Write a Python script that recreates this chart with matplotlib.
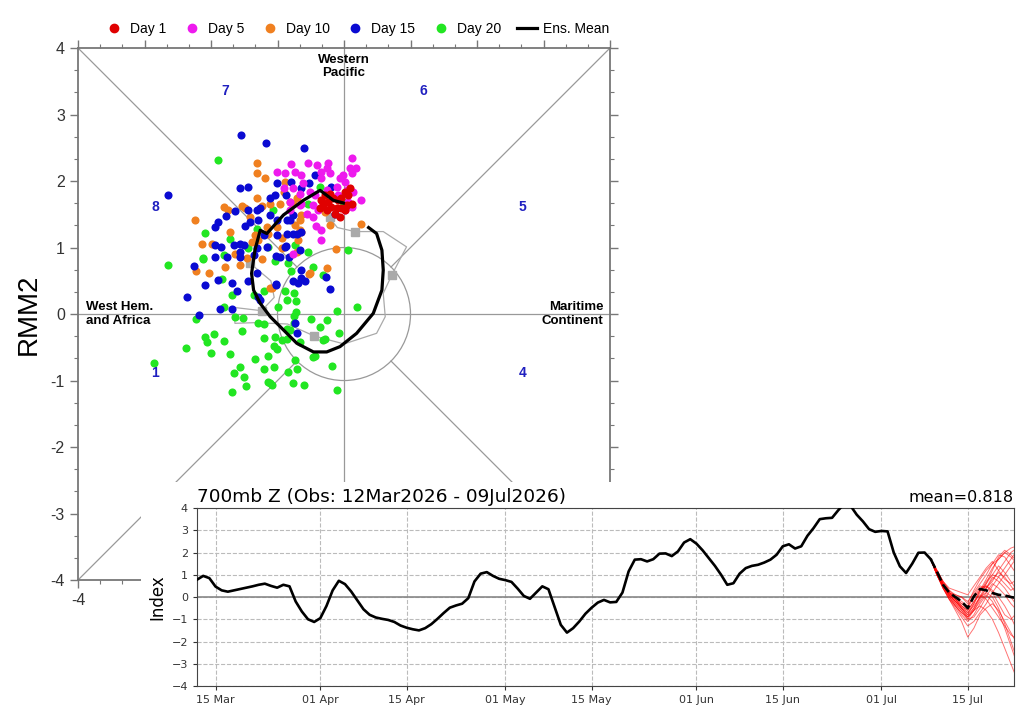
import numpy as np
import matplotlib
matplotlib.use('Agg')
import matplotlib.pyplot as plt
import matplotlib.dates as mdates
from matplotlib.patches import Circle
from matplotlib.lines import Line2D
from matplotlib.ticker import MultipleLocator, FuncFormatter

# ---------------- phase diagram data (RMM1, RMM2) ----------------
day1_x = [-0.34, -0.29, -0.21, -0.16, -0.24, -0.31, -0.09, -0.04, 0.02, 0.06, 0.04,
          0.12, -0.04, 0.02, -0.11, -0.19, -0.36, -0.26, -0.06, -0.14, 0.09]
day1_y = [1.71, 1.79, 1.80, 1.74, 1.69, 1.64, 1.71, 1.75, 1.84, 1.79, 1.64,
          1.66, 1.59, 1.56, 1.59, 1.61, 1.59, 1.56, 1.46, 1.51, 1.89]

day5_x = [0.12, 0.09, 0.18, 0.12, 0.26, -0.79, -0.54, -0.41, -0.24, -0.26, -0.89, -0.74,
          -0.64, -0.34, -0.21, -0.01, -0.06, -0.61, -0.34, 0.02, 0.04, 0.14, -0.76, -0.66,
          -0.51, -0.44, -0.26, -0.11, -0.09, -0.81, -0.64, -0.46, -0.39, -0.56, -0.46, -0.66,
          0.06, 0.12, 0.02, -0.42, -0.34, -0.35, -0.81, -0.91, -1.01, -0.76]
day5_y = [2.35, 2.19, 2.19, 2.12, 1.71, 2.25, 2.27, 2.24, 2.27, 2.19, 2.12, 2.14,
          2.09, 2.14, 2.12, 2.09, 2.04, 1.97, 2.04, 1.99, 1.86, 1.84, 1.89, 1.81,
          1.84, 1.79, 1.86, 1.91, 1.79, 1.69, 1.66, 1.64, 1.56, 1.51, 1.46, 1.64,
          1.69, 1.61, 1.56, 1.32, 1.26, 1.11, 1.57, 1.89, 2.14, 0.91]

day10_x = [-1.31, -1.31, -1.19, -2.24, -1.81, -1.75, -1.54, -1.49, -1.41, -1.31, -1.24,
           -1.11, -0.96, -0.91, -0.89, -2.14, -1.99, -1.71, -1.34, -1.29, -1.39, -1.16,
           -1.01, -1.64, -2.22, -2.03, -1.79, -1.56, -1.46, -1.24, -1.14, -0.94, -0.94,
           -0.71, -0.69, -0.66, -0.74, -0.64, -0.81, -0.71, -0.51, -0.25, -1.11, -0.21,
           -0.12, 0.25, -0.76, -0.66, -0.64, -0.31, -0.29, -0.52, -1.09]
day10_y = [2.27, 2.12, 2.04, 1.42, 1.61, 1.57, 1.62, 1.60, 1.46, 1.74, 1.62,
           1.66, 1.66, 1.84, 1.99, 1.05, 1.05, 1.24, 1.19, 1.11, 1.09, 1.31,
           1.31, 0.91, 0.64, 0.61, 0.71, 0.74, 0.84, 0.82, 1.21, 1.14, 1.00,
           0.94, 1.11, 1.26, 1.34, 1.49, 1.69, 1.74, 0.61, 0.69, 0.39, 1.34,
           0.98, 1.35, 1.66, 1.41, 1.24, 1.69, 1.54, 0.60, 0.39]

day15_x = [-1.55, -1.18, -2.64, -1.56, -1.44, -1.45, -1.31, -1.26, -1.01, -1.04, -1.11,
           -1.64, -1.77, -1.89, -1.94, -1.41, -1.49, -1.30, -1.11, -1.01, -0.86, -0.86,
           -1.21, -1.01, -1.94, -1.85, -1.66, -1.57, -1.51, -1.56, -1.76, -1.94, -1.31,
           -1.35, -1.56, -2.25, -2.36, -2.18, -1.86, -2.09, -1.89, -1.69, -1.61, -1.44,
           -1.31, -1.29, -1.26, -1.02, -1.02, -1.16, -0.96, -0.89, -0.82, -0.76, -0.69,
           -0.64, -0.59, -0.64, -0.27, -0.21, -0.76, -0.64, -0.77, -0.60, -0.44, -0.79,
           -0.52, -0.65, -0.87, -0.19, -0.81, -0.71, -0.87, -0.66, -0.14, -0.71, -1.02,
           -0.74, -1.69]
day15_y = [2.69, 2.57, 1.79, 1.89, 1.91, 1.56, 1.57, 1.59, 1.97, 1.79, 1.75,
           1.55, 1.47, 1.39, 1.31, 1.39, 1.32, 1.41, 1.49, 1.41, 1.41, 1.21,
           1.19, 1.19, 1.04, 1.01, 1.04, 1.06, 1.04, 0.94, 0.86, 0.86, 0.99,
           0.89, 0.86, 0.72, 0.26, -0.02, 0.07, 0.44, 0.51, 0.47, 0.35, 0.49,
           0.61, 0.26, 0.21, 0.44, 0.87, 1.01, 0.86, 1.01, 0.86, 0.49, 0.47,
           0.54, 0.49, 0.66, 0.56, 0.37, 1.21, 1.24, 1.49, 2.50, 2.09, 1.99,
           1.97, 1.89, 1.79, 1.91, 1.41, 1.21, 1.02, 0.96, 1.51, -0.29, 0.45,
           -0.13, 0.08]

day20_x = [-2.65, -2.12, -1.84, -1.69, -1.80, -2.22, -1.64, -1.52, -2.09, -2.06, -1.95,
           -1.80, -2.37, -2.00, -1.71, -2.85, -1.54, -1.56, -1.66, -1.51, -1.47, -1.69,
           -1.34, -1.21, -1.14, -1.06, -1.14, -1.09, -1.21, -1.04, -1.06, -1.01, -0.94,
           -0.86, -0.74, -0.71, -0.84, -0.60, -0.11, -0.18, -0.47, -0.44, -0.29, -0.31,
           -0.36, -0.26, -0.07, -0.49, -0.66, -0.75, -0.75, -0.72, -0.81, -0.86, -0.99,
           -1.20, -1.29, -0.11, 0.19, -0.86, -0.72, -0.75, -1.36, -1.21, -1.04, -0.84,
           -0.79, -0.46, -0.32, -0.54, 0.06, -0.89, -1.89, -2.09, -1.72, -2.12, -1.31,
           -1.44, -1.14, -1.07, -1.81, -0.36, -0.01, -0.54, -0.74, -1.11, -0.76]
day20_y = [0.73, 0.82, 0.52, 0.29, 0.10, -0.08, -0.04, -0.06, -0.35, -0.42, -0.30,
           -0.40, -0.51, -0.59, -0.60, -0.74, -0.25, -0.79, -0.89, -0.95, -1.08, -1.17,
           -0.67, -0.82, -0.63, -0.79, -1.02, -1.07, -0.36, -0.35, -0.48, -0.53, -0.39,
           -0.37, -0.69, -0.82, -0.87, -1.07, -1.14, -0.78, -0.64, -0.63, -0.37, -0.39,
           -0.19, -0.09, -0.28, -0.08, -0.42, -0.13, -0.03, 0.03, -0.24, -0.23, 0.10,
           -0.15, -0.13, 0.05, 0.11, 0.21, 0.19, 0.31, 0.29, 0.34, 0.79, 0.76,
           0.64, 0.71, 0.59, 0.94, 0.96, 0.34, 2.31, 1.22, 1.13, 0.84, 1.28,
           0.99, 1.01, 1.56, 0.89, 1.91, 1.69, 1.66, 1.04, -1.04, -1.04]

# ensemble mean trajectory
mean_x = [-0.01, -0.16, -0.36, -0.61, -0.91, -1.16, -1.26, -1.34, -1.39, -1.36, -1.26,
          -1.11, -0.91, -0.71, -0.46, -0.26, -0.06, 0.19, 0.44, 0.57, 0.59, 0.57, 0.49, 0.37]
mean_y = [1.67, 1.71, 1.86, 1.71, 1.49, 1.21, 1.26, 0.96, 0.61, 0.36, 0.16,
          -0.04, -0.24, -0.44, -0.57, -0.57, -0.49, -0.29, 0.01, 0.36, 0.66, 0.96, 1.21, 1.30]

# observed trajectory (gray) and its marked days
obs_x = [-1.41, -1.10, -1.05, -1.24, -1.66, -1.64, -1.35, -0.85, -0.45, 0.00, 0.49,
         0.62, 0.59, 0.72, 0.94, 0.59, 0.165, -0.10, -0.18, -0.21, -0.20]
obs_y = [0.76, 0.50, 0.25, 0.05, 0.10, -0.14, -0.13, -0.15, -0.33, -0.45, -0.29,
         -0.04, 0.31, 0.59, 1.01, 1.24, 1.24, 1.30, 1.40, 1.46, 1.65]
obs_mark = [0, 3, 8, 13, 16, 19]

phase_num = ['1', '2', '3', '4', '5', '6', '7', '8']
phase_x = [-2.84, -1.19, 1.19, 2.68, 2.68, 1.19, -1.79, -2.84]
phase_y = [-0.89, -3.35, -3.35, -0.89, 1.61, 3.35, 3.35, 1.61]

# ---------------- time series data ----------------
obs_index = [0.78, 0.95, 0.85, 0.47, 0.30, 0.24, 0.30, 0.36, 0.42, 0.48,
             0.55, 0.60, 0.50, 0.42, 0.55, 0.48, -0.20, -0.65, -1.00, -1.12,
             -0.95, -0.40, 0.30, 0.73, 0.58, 0.25, -0.15, -0.55, -0.80, -0.92,
             -0.98, -1.03, -1.12, -1.28, -1.38, -1.45, -1.50, -1.40, -1.22, -0.98,
             -0.72, -0.48, -0.38, -0.30, -0.05, 0.70, 1.05, 1.12, 0.95, 0.82,
             0.76, 0.68, 0.38, 0.05, -0.08, 0.20, 0.48, 0.35, -0.45, -1.25,
             -1.60, -1.40, -1.10, -0.75, -0.48, -0.25, -0.13, -0.24, -0.22, 0.20,
             1.15, 1.68, 1.70, 1.60, 1.70, 1.95, 1.96, 1.84, 2.05, 2.45,
             2.60, 2.40, 2.10, 1.75, 1.40, 1.00, 0.55, 0.62, 1.05, 1.30,
             1.40, 1.45, 1.55, 1.68, 1.90, 2.28, 2.37, 2.18, 2.28, 2.75,
             3.10, 3.50, 3.54, 3.56, 3.90, 4.20, 4.10, 3.70, 3.40, 3.05,
             2.93, 2.97, 2.95, 2.00, 1.38, 1.08, 1.50, 1.99, 2.00, 1.70]

fc_mean = [1.15, 0.55, 0.20, 0.00, -0.20, -0.50, 0.03, 0.36, 0.30, 0.18, 0.10, 0.07, 0.00, -0.05]

members = [
    [1.1, 0.6, 0.2, -0.1, -0.4, -0.6, -0.2, 0.3, 0.8, 1.3, 1.7, 2.0, 2.2, 2.3],
    [1.0, 0.5, 0.1, -0.2, -0.5, -0.8, -0.5, 0.0, 0.6, 1.2, 1.8, 2.1, 1.9, 1.6],
    [1.2, 0.7, 0.3, 0.1, 0.0, -0.2, 0.2, 0.6, 1.0, 1.5, 1.9, 1.8, 1.4, 1.0],
    [1.1, 0.5, 0.0, -0.4, -0.7, -1.0, -0.9, -0.5, 0.0, 0.5, 0.9, 1.3, 1.7, 2.1],
    [1.0, 0.4, -0.1, -0.5, -0.9, -1.3, -1.1, -0.7, -0.3, 0.2, 0.6, 1.0, 1.4, 1.8],
    [1.1, 0.6, 0.2, 0.0, -0.3, -0.5, 0.0, 0.4, 0.5, 0.3, 0.0, -0.4, -0.9, -1.5],
    [1.0, 0.4, 0.0, -0.3, -0.6, -0.9, -0.6, -0.4, -0.6, -1.0, -1.6, -2.3, -3.0, -3.7],
    [1.2, 0.6, 0.2, -0.1, -0.4, -0.7, -0.4, 0.0, 0.2, 0.0, -0.5, -1.2, -2.0, -2.8],
    [1.1, 0.5, 0.1, -0.2, -0.5, -0.7, -0.3, 0.2, 0.7, 1.0, 0.9, 0.6, 0.3, 0.5],
    [1.0, 0.4, -0.1, -0.6, -1.1, -1.8, -1.4, -0.8, -0.5, -0.3, -0.6, -1.1, -1.6, -2.1],
    [1.2, 0.7, 0.4, 0.3, 0.2, 0.1, 0.5, 0.9, 1.3, 1.6, 1.2, 0.8, 0.6, 0.8],
    [1.1, 0.5, 0.1, -0.3, -0.6, -1.0, -0.6, -0.1, 0.4, 0.8, 1.1, 0.9, 0.5, 0.1],
    [1.0, 0.5, 0.1, -0.2, -0.5, -0.8, -0.3, 0.3, 0.5, 0.2, -0.3, -0.8, -1.0, -0.7],
    [1.1, 0.6, 0.2, -0.1, -0.3, -0.4, 0.1, 0.5, 0.4, 0.7, 1.2, 1.6, 2.0, 2.2],
    [1.0, 0.4, -0.1, -0.4, -0.8, -1.1, -0.8, -0.3, 0.1, -0.2, -0.7, -1.4, -2.2, -3.0],
    [1.2, 0.7, 0.3, 0.0, -0.2, -0.4, 0.0, 0.3, 0.6, 1.0, 1.4, 1.1, 0.7, 0.3],
    [1.1, 0.6, 0.2, -0.1, -0.5, -0.9, -0.6, -0.2, 0.2, 0.6, 0.4, 0.1, -0.3, -0.6],
    [1.1, 0.5, 0.1, -0.2, -0.4, -0.6, -0.2, 0.1, -0.1, -0.5, -0.9, -1.3, -1.7, -1.9],
    [1.0, 0.5, 0.2, 0.1, 0.0, -0.3, 0.3, 0.8, 1.2, 1.5, 1.7, 2.0, 1.8, 1.5],
    [1.1, 0.5, 0.0, -0.4, -0.7, -0.9, -0.5, 0.0, 0.4, 0.9, 0.7, 0.4, 0.0, -0.4],
]

obs_dates = np.arange(np.datetime64('2026-03-12'), np.datetime64('2026-07-10'))
fc_dates = np.arange(np.datetime64('2026-07-09'), np.datetime64('2026-07-24'))

sans = ['Liberation Sans', 'DejaVu Sans']
fig = plt.figure(figsize=(10.24, 7.2), dpi=100)

# ================= phase diagram =================
ax = fig.add_axes([0.0762, 0.1944, 0.5195, 0.7389])
ax.set_xlim(-4, 4)
ax.set_ylim(-4, 4)
lc = '#999999'
ax.axhline(0, color=lc, lw=0.9, zorder=1)
ax.axvline(0, color=lc, lw=0.9, zorder=1)
r = np.sqrt(0.5)
for sx, sy in [(1, 1), (1, -1), (-1, 1), (-1, -1)]:
    ax.plot([sx * r, sx * 4], [sy * r, sy * 4], color=lc, lw=0.9, zorder=1)
ax.add_patch(Circle((0, 0), 1, fill=False, ec=lc, lw=0.9, zorder=1))

ax.plot(obs_x, obs_y, color='#aaaaaa', lw=0.9, zorder=2)
ax.plot([obs_x[i] for i in obs_mark], [obs_y[i] for i in obs_mark], 's',
        color='#aaaaaa', ms=6, zorder=2)

ax.scatter(day20_x, day20_y, s=34, color='#22e622', zorder=3, lw=0)
ax.scatter(day10_x, day10_y, s=34, color='#f08020', zorder=4, lw=0)
ax.scatter(day15_x, day15_y, s=34, color='#0a0ad2', zorder=5, lw=0)
ax.scatter(day5_x, day5_y, s=34, color='#ee1aee', zorder=6, lw=0)
ax.scatter(day1_x, day1_y, s=34, color='#e00000', zorder=7, lw=0)
ax.plot(mean_x, mean_y, color='black', lw=2.3, zorder=8)

for t, x, y in zip(phase_num, phase_x, phase_y):
    ax.text(x, y, t, color='#2020c0', fontsize=10, fontweight='bold',
            ha='center', va='center', family=sans)
ax.text(0, 3.72, 'Western\nPacific', fontsize=9.5, fontweight='bold', ha='center',
        va='center', family=sans, linespacing=1.15)
ax.text(-3.88, 0, 'West Hem.\nand Africa', fontsize=9.5, fontweight='bold', ha='left',
        va='center', family=sans, linespacing=1.15)
ax.text(3.9, 0, 'Maritime\nContinent', fontsize=9.5, fontweight='bold', ha='right',
        va='center', family=sans, linespacing=1.15)

ax.xaxis.set_major_locator(MultipleLocator(1))
ax.yaxis.set_major_locator(MultipleLocator(1))
ax.xaxis.set_minor_locator(MultipleLocator(1 / 3))
ax.yaxis.set_minor_locator(MultipleLocator(1 / 3))
# only the leftmost x label is left uncovered by the lower panel
ax.xaxis.set_major_formatter(FuncFormatter(lambda v, p: '%d' % round(v) if v < -3.5 else ''))
ax.yaxis.set_major_formatter(FuncFormatter(lambda v, p: '%d' % round(v)))
ax.tick_params(which='both', direction='out', top=True, right=True, color='#777777',
               labelsize=11.5, labelcolor='#333333')
ax.tick_params(which='major', length=6, width=1)
ax.tick_params(which='minor', length=3, width=0.8)
for lab in ax.get_xticklabels() + ax.get_yticklabels():
    lab.set_family(sans)
for s in ax.spines.values():
    s.set_color('#777777')
    s.set_linewidth(1.3)
ax.set_ylabel('RMM2', fontsize=20, family=sans, labelpad=6)

handles = [Line2D([], [], marker='o', ls='none', color=c, ms=6)
           for c in ['#e00000', '#ee1aee', '#f08020', '#0a0ad2', '#22e622']]
handles.append(Line2D([], [], color='black', lw=2.3))
fig.legend(handles, ['Day 1', 'Day 5', 'Day 10', 'Day 15', 'Day 20', 'Ens. Mean'],
           loc='center', bbox_to_anchor=(0.348, 0.96), ncol=6, frameon=False,
           prop={'family': sans, 'size': 10}, handlelength=1.5, handletextpad=0.4,
           columnspacing=1.1)

# white block covering lower right of the phase diagram
bg = fig.add_axes([0.1375, 0.0, 0.8625, 0.331])
bg.set_xticks([])
bg.set_yticks([])
for s in bg.spines.values():
    s.set_visible(False)

# ================= time series =================
ts = fig.add_axes([0.1924, 0.0472, 0.7978, 0.2472])
for m in members:
    ts.plot(fc_dates, [obs_index[-1]] + m, color='red', lw=0.7, alpha=0.55, zorder=3)
ts.plot(obs_dates, obs_index, color='black', lw=1.9, zorder=4)
ts.plot(fc_dates, [obs_index[-1]] + fc_mean, color='black', lw=1.9, ls='--', zorder=5)
ts.axhline(0, color='#888888', lw=1.2, zorder=2)
ts.set_ylim(-4, 4)
ts.set_xlim(mdates.date2num(np.datetime64('2026-03-12')),
            mdates.date2num(np.datetime64('2026-07-22T12')))
ts.set_yticks(range(-4, 5))
ts.set_xticks([mdates.date2num(np.datetime64(d)) for d in
               ['2026-03-15', '2026-04-01', '2026-04-15', '2026-05-01', '2026-05-15',
                '2026-06-01', '2026-06-15', '2026-07-01', '2026-07-15']])
ts.xaxis.set_major_formatter(mdates.DateFormatter('%d %b'))
ts.grid(True, ls='--', color='#bbbbbb', lw=0.8, zorder=1)
ts.tick_params(labelsize=8, colors='#333333', length=3)
for s in ts.spines.values():
    s.set_color('#444444')
ts.set_ylabel('Index', fontsize=12)
ts.set_title('700mb Z (Obs: 12Mar2026 - 09Jul2026)', loc='left', fontsize=13.3, pad=4)
ts.set_title('mean=0.818', loc='right', fontsize=11.5, pad=4)

fig.savefig('out.png', dpi=100)
